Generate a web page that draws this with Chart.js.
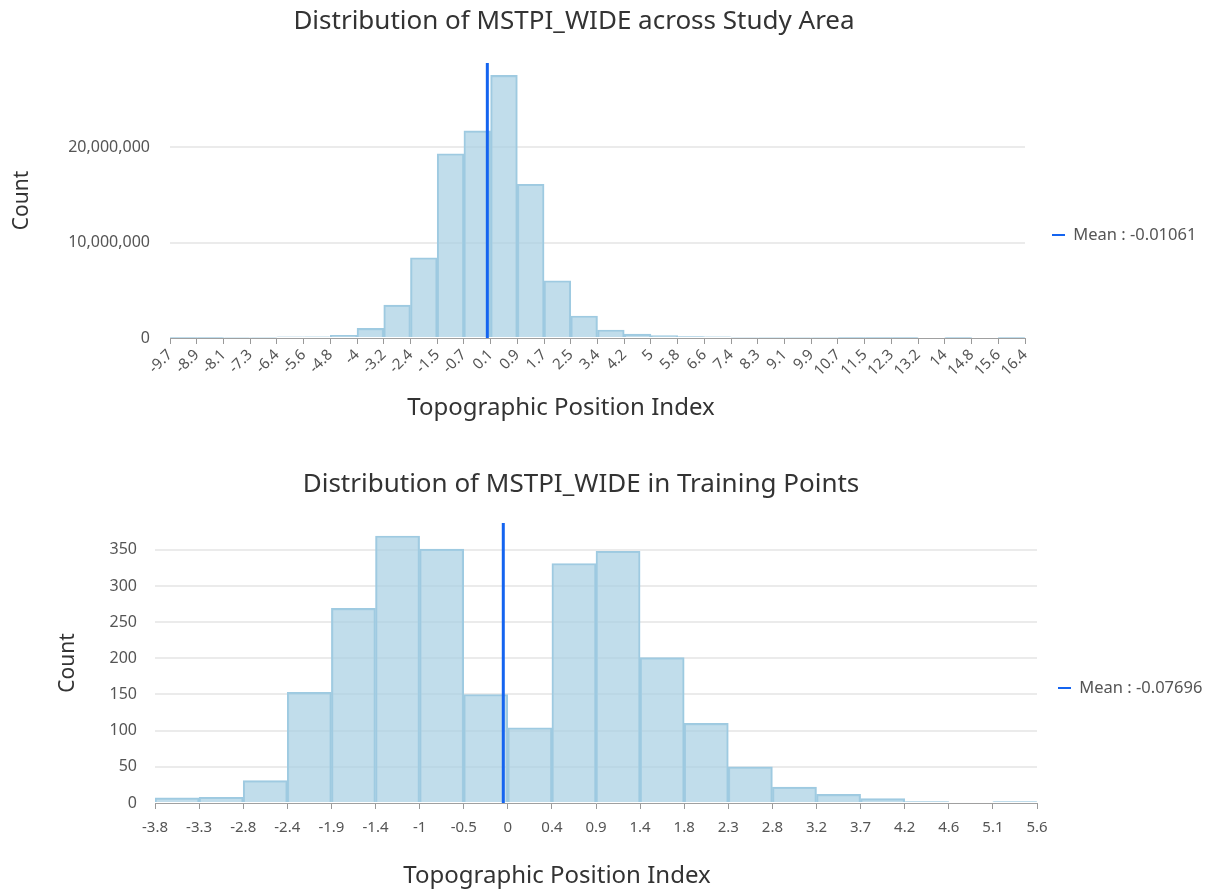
<!DOCTYPE html>
<html><head><meta charset="utf-8">
<script src="https://cdn.jsdelivr.net/npm/chart.js@4.4.1/dist/chart.umd.min.js"></script>
<style>
html,body{margin:0;padding:0;background:#fff;}
#wrap{position:relative;width:1206px;height:890px;}
.box{position:absolute;left:0;width:1206px;height:445px;}
</style></head><body>
<div id="wrap">
<div class="box" style="top:0"><canvas id="c1" width="1206" height="445"></canvas></div>
<div class="box" style="top:445px"><canvas id="c2" width="1206" height="445"></canvas></div>
</div>
<script>
// ---- data ----
const topTitle = 'Distribution of MSTPI_WIDE across Study Area';
const bottomTitle = 'Distribution of MSTPI_WIDE in Training Points';
const xTitle = 'Topographic Position Index';
const yTitle = 'Count';

const topBinStart = -9.696;
const topBinWidth = 0.8155;
const topEdgeLabels = ['-9.7','-8.9','-8.1','-7.3','-6.4','-5.6','-4.8','-4','-3.2','-2.4','-1.5','-0.7','0.1','0.9','1.7','2.5','3.4','4.2','5','5.8','6.6','7.4','8.3','9.1','9.9','10.7','11.5','12.3','13.2','14','14.8','15.6','16.4'];
const topCounts = [60000,70000,80000,90000,110000,130000,280000,1000000,3450000,8400000,19300000,21700000,27500000,16100000,6000000,2300000,840000,400000,260000,150000,120000,100000,90000,80000,80000,70000,70000,60000,0,60000,0,60000];
const topMean = -0.01061;
const topYMax = 28800000;
const topYTicks = [0, 10000000, 20000000];

const bottomBinStart = -3.781;
const bottomBinWidth = 0.469;
const bottomEdgeLabels = ['-3.8','-3.3','-2.8','-2.4','-1.9','-1.4','-1','-0.5','0','0.4','0.9','1.4','1.8','2.3','2.8','3.2','3.7','4.2','4.6','5.1','5.6'];
const bottomCounts = [7,8,31,153,269,369,351,150,104,331,348,201,110,50,22,12,6,2,0,2];
const bottomMean = -0.07696;
const bottomYMax = 387;
const bottomYTicks = [0, 50, 100, 150, 200, 250, 300, 350];

// ---- rendering ----
const FAMILY = '"Noto Sans", "DejaVu Sans", sans-serif';
Chart.defaults.font.family = FAMILY;
Chart.defaults.color = '#555';
const LEGEND_FONT = 16.5;
const LEGEND_MARK = 13;

function measure(text, font) {
  const c = document.createElement('canvas').getContext('2d');
  c.font = font;
  return c.measureText(text).width;
}

function buildChart(id, p) {
  const W = 1206;
  const bars = p.counts.map((c, i) => ({x: p.binStart + (i + 0.5) * p.binWidth, y: c}));
  const edges = p.edgeLabels.map((_, i) => p.binStart + i * p.binWidth);
  const legendText = 'Mean : ' + p.mean;
  const tw = measure(legendText, 'normal ' + LEGEND_FONT + 'px ' + FAMILY);
  const legendW = p.legendPad + LEGEND_MARK + LEGEND_FONT / 2 + tw + 10;
  const padRight = W - p.areaRight - legendW;
  const padLeft = 2 * p.titleCenter - W + padRight;
  const xTitlePlugin = {
    id: 'xTitle' + id,
    afterDraw(chart) {
      const ctx = chart.ctx;
      ctx.save();
      ctx.font = '24px ' + FAMILY;
      ctx.fillStyle = '#333';
      ctx.textAlign = 'center';
      ctx.textBaseline = 'middle';
      ctx.fillText(xTitle, p.xTitleX, chart.scales.x.bottom - p.xTitleFromBottom);
      ctx.restore();
    }
  };
  return new Chart(document.getElementById(id), {
    type: 'bar',
    data: {
      datasets: [
        { type: 'line', label: legendText, data: [{x: p.mean, y: 0}, {x: p.mean, y: p.yMax}],
          borderColor: '#1464f0', backgroundColor: '#1464f0', borderWidth: 3, pointRadius: 0, fill: false },
        { type: 'bar', label: 'Count', data: bars,
          backgroundColor: 'rgba(166,206,227,0.7)', borderColor: 'rgba(158,202,225,1)', borderWidth: 1.5,
          barPercentage: 1, categoryPercentage: 1 }
      ]
    },
    plugins: [xTitlePlugin],
    options: {
      responsive: false,
      animation: false,
      layout: { padding: { left: padLeft, right: padRight, top: 0, bottom: 0 } },
      plugins: {
        title: { display: true, text: p.title, color: '#333', font: { size: 26, weight: 'normal' }, padding: p.titlePad },
        legend: {
          position: 'right', align: 'center',
          title: { display: true, text: ' ', font: { size: 10 }, padding: { top: p.legendTitleTop, bottom: 0 } },
          labels: {
            usePointStyle: true, pointStyle: 'line', pointStyleWidth: LEGEND_MARK, padding: p.legendPad,
            color: '#555', font: { size: LEGEND_FONT },
            generateLabels: (chart) => Chart.defaults.plugins.legend.labels.generateLabels(chart)
              .map(l => Object.assign(l, { lineWidth: 2 })),
            filter: (item) => item.datasetIndex === 0
          }
        },
        tooltip: { enabled: false }
      },
      scales: {
        x: {
          type: 'linear', min: edges[0], max: edges[edges.length - 1], offset: false,
          afterBuildTicks: (s) => { s.ticks = edges.map(v => ({ value: v })); },
          afterFit: (s) => { s.height = p.xHeight; },
          ticks: {
            autoSkip: false, maxRotation: p.rot, minRotation: p.rot, padding: p.xTickPad,
            color: '#555', font: { size: 15 },
            callback: (v, i) => p.edgeLabels[i]
          },
          grid: { display: true, drawOnChartArea: false, drawTicks: true, tickLength: 6, color: '#999', offset: false },
          border: { display: true, color: '#a0a0a0', width: 1 },
          title: { display: false }
        },
        y: {
          type: 'linear', min: 0, max: p.yMax,
          afterBuildTicks: (s) => { s.ticks = p.yTicks.map(v => ({ value: v })); },
          afterFit: (s) => { s.width = p.areaLeft - padLeft; },
          ticks: { padding: p.yTickPad, color: '#555', font: { size: 16 } },
          grid: { color: (c) => (c.tick && c.tick.value === 0) ? 'rgba(0,0,0,0)' : '#ebebeb', lineWidth: 2, drawTicks: false },
          border: { display: false },
          title: { display: true, text: yTitle, color: '#333', font: { size: 21 },
                   padding: { top: p.countX - 12.6 - padLeft, bottom: 0 } }
        }
      }
    }
  });
}

buildChart('c1', {
  title: topTitle, counts: topCounts, binStart: topBinStart, binWidth: topBinWidth,
  edgeLabels: topEdgeLabels, mean: topMean, yMax: topYMax, yTicks: topYTicks,
  titleCenter: 574, areaLeft: 170, areaRight: 1025, legendPad: 27, legendTitleTop: 13,
  titlePad: { top: 6.4, bottom: 25.4 },
  countX: 22, yTickPad: 20,
  xHeight: 107, xTitleX: 561, xTitleFromBottom: 37, xTickPad: 2, rot: 45
});

buildChart('c2', {
  title: bottomTitle, counts: bottomCounts, binStart: bottomBinStart, binWidth: bottomBinWidth,
  edgeLabels: bottomEdgeLabels, mean: bottomMean, yMax: bottomYMax, yTicks: bottomYTicks,
  titleCenter: 581, areaLeft: 155, areaRight: 1037, legendPad: 21, legendTitleTop: 29,
  titlePad: { top: 24.4, bottom: 22.4 },
  countX: 68, yTickPad: 18,
  xHeight: 87, xTitleX: 557, xTitleFromBottom: 14, xTickPad: 10, rot: 0
});
</script>
</body></html>
